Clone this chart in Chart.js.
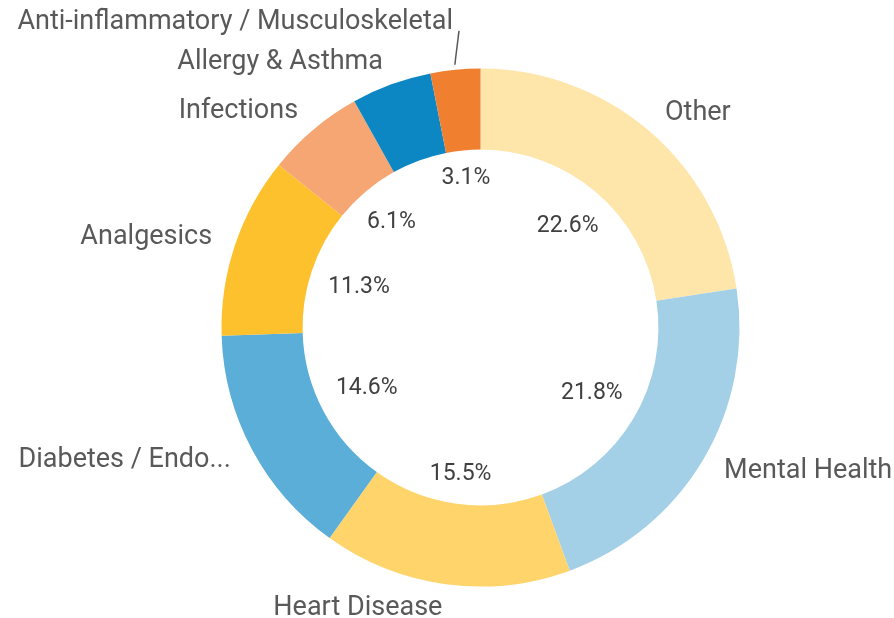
<!DOCTYPE html>
<html>
<head>
<meta charset="utf-8">
<script src="https://cdn.jsdelivr.net/npm/chart.js@4/dist/chart.umd.min.js"></script>
<style>
  html, body { margin: 0; padding: 0; background: #ffffff; }
  #wrap { width: 894px; height: 618px; position: relative; }
</style>
</head>
<body>
<div id="wrap"><canvas id="c" width="894" height="618"></canvas></div>
<script>
// ---- data ----
const categories = [
  'Other',
  'Mental Health',
  'Heart Disease',
  'Diabetes / Endo...',
  'Analgesics',
  'Infections',
  'Allergy & Asthma',
  'Anti-inflammatory / Musculoskeletal'
];
const shares = [22.6, 21.8, 15.5, 14.6, 11.3, 6.1, 5.0, 3.1];
const sliceColors = ['#fee5aa', '#a3d0e7', '#fed46b', '#5aaed7', '#fdc12e', '#f5a672', '#0d87c4', '#f07f2f'];
const hiddenPercentLabels = ['Allergy & Asthma'];

const labelFont = '27px Roboto, "Noto Sans", sans-serif';
const pctFont = '23px Roboto, "Noto Sans", sans-serif';

const labelPlugin = {
  id: 'sliceLabels',
  afterDatasetsDraw(chart) {
    const ctx = chart.ctx;
    const meta = chart.getDatasetMeta(0);
    const vals = chart.data.datasets[0].data;
    const total = vals.reduce((a, b) => a + b, 0);
    ctx.save();
    // inside percentage labels
    ctx.font = pctFont;
    ctx.fillStyle = '#404040';
    ctx.textAlign = 'center';
    ctx.textBaseline = 'middle';
    meta.data.forEach((arc, i) => {
      if (hiddenPercentLabels.includes(chart.data.labels[i])) return;
      const p = arc.getProps(['x', 'y', 'startAngle', 'endAngle', 'innerRadius', 'outerRadius'], true);
      const mid = (p.startAngle + p.endAngle) / 2;
      const txt = (vals[i] / total * 100).toFixed(1) + '%';
      const w = ctx.measureText(txt).width;
      const h = 16;
      const r = p.innerRadius - 18 - (Math.abs(Math.cos(mid)) * w / 2 + Math.abs(Math.sin(mid)) * h / 2);
      ctx.fillText(txt, p.x + r * Math.cos(mid), p.y + r * Math.sin(mid));
    });
    // outside category labels
    ctx.font = labelFont;
    ctx.fillStyle = '#595959';
    ctx.strokeStyle = '#595959';
    ctx.lineWidth = 1.5;
    let prevLeftY = null;
    meta.data.forEach((arc, i) => {
      const p = arc.getProps(['x', 'y', 'startAngle', 'endAngle', 'innerRadius', 'outerRadius'], true);
      const mid = (p.startAngle + p.endAngle) / 2;
      const R = p.outerRadius + 24;
      let x = p.x + R * Math.cos(mid);
      let y = p.y + R * Math.sin(mid);
      const right = Math.cos(mid) >= 0;
      let moved = false;
      if (!right) {
        if (prevLeftY !== null && Math.abs(prevLeftY - y) < 40) {
          y = prevLeftY - 40;
          moved = true;
        }
        prevLeftY = y;
      }
      ctx.textAlign = right ? 'left' : 'right';
      ctx.textBaseline = 'middle';
      ctx.fillText(chart.data.labels[i], x, y);
      if (moved) {
        const r0 = p.outerRadius + 5;
        ctx.beginPath();
        ctx.moveTo(p.x + r0 * Math.cos(mid), p.y + r0 * Math.sin(mid));
        ctx.lineTo(x + 6, y + 9);
        ctx.stroke();
      }
    });
    ctx.restore();
  }
};

new Chart(document.getElementById('c'), {
  type: 'doughnut',
  data: {
    labels: categories,
    datasets: [{
      data: shares,
      backgroundColor: sliceColors,
      borderWidth: 0,
      hoverOffset: 0
    }]
  },
  options: {
    responsive: false,
    animation: false,
    cutout: '68.7%',
    layout: { padding: { left: 221.5, right: 154.5, top: 68.5, bottom: 31.5 } },
    plugins: {
      legend: { display: false },
      tooltip: { enabled: false }
    }
  },
  plugins: [labelPlugin]
});
</script>
</body>
</html>
